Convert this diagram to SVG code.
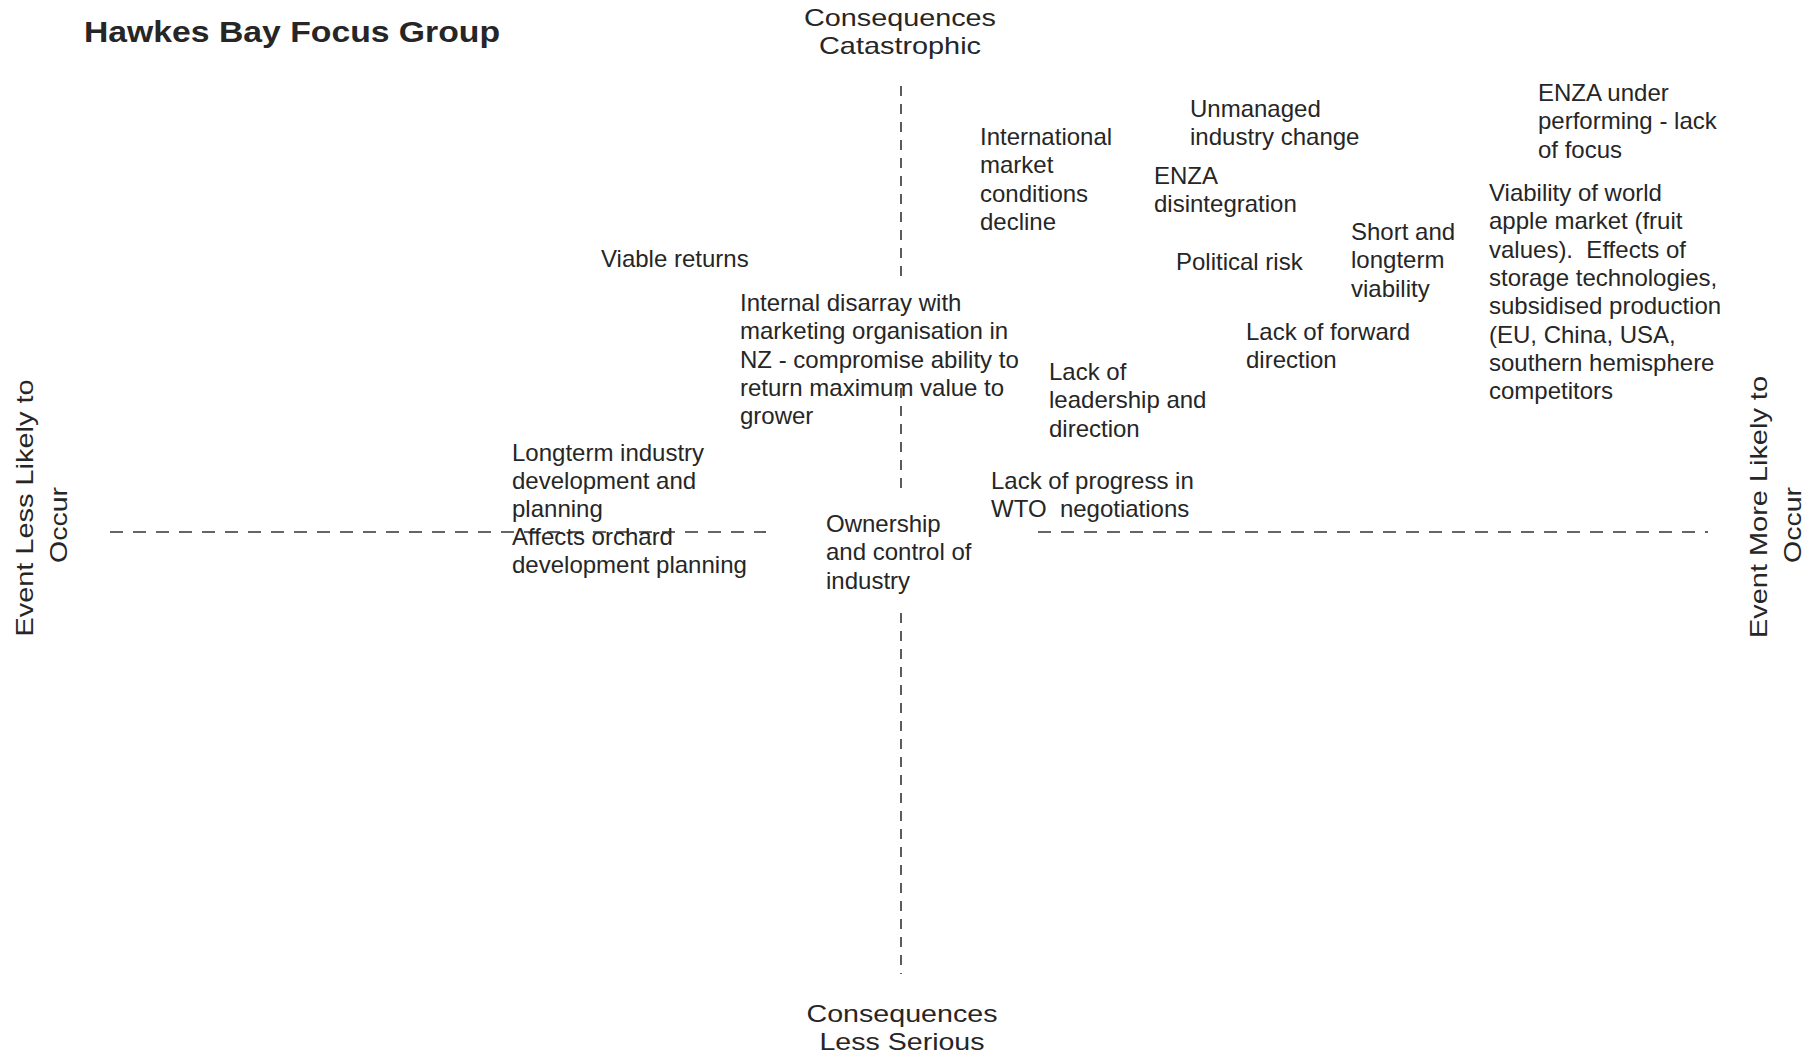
<svg xmlns="http://www.w3.org/2000/svg" width="1813" height="1055" viewBox="0 0 1813 1055">
<style>
text{font-family:"Liberation Sans",Arial,Helvetica,sans-serif;fill:#262626;font-size:24px}
.title{font-weight:bold;font-size:29px}
.ax{text-anchor:middle}
.dh{stroke:#333;stroke-width:1.6;fill:none;stroke-dasharray:13 10}
.dv{stroke:#333;stroke-width:1.6;fill:none;stroke-dasharray:10 8}
</style>
<rect width="1813" height="1055" fill="#fff"/>
<g id="axes">
<path class="dh" d="M110 532H766"/>
<path class="dh" d="M1038 532H1708"/>
<path class="dv" d="M901 86V284"/>
<path class="dv" d="M901 388V488"/>
<path class="dv" d="M901 613V974"/>
</g>
<g id="title"><text class="title" x="84" y="42" textLength="416" lengthAdjust="spacingAndGlyphs">Hawkes Bay Focus Group</text></g>
<g id="axis-top">
<text class="ax" x="900" y="26" textLength="192" lengthAdjust="spacingAndGlyphs">Consequences</text>
<text class="ax" x="900" y="54" textLength="162" lengthAdjust="spacingAndGlyphs">Catastrophic</text>
</g>
<g id="axis-bottom">
<text class="ax" x="902" y="1022" textLength="191" lengthAdjust="spacingAndGlyphs">Consequences</text>
<text class="ax" x="902" y="1050" textLength="165" lengthAdjust="spacingAndGlyphs">Less Serious</text>
</g>
<g id="axis-left">
<text class="ax" transform="translate(33,508) rotate(-90)" textLength="257" lengthAdjust="spacingAndGlyphs">Event Less Likely to</text>
<text class="ax" transform="translate(67,525) rotate(-90)" textLength="76" lengthAdjust="spacingAndGlyphs">Occur</text>
</g>
<g id="axis-right">
<text class="ax" transform="translate(1767,507) rotate(-90)" textLength="262" lengthAdjust="spacingAndGlyphs">Event More Likely to</text>
<text class="ax" transform="translate(1801,525) rotate(-90)" textLength="76" lengthAdjust="spacingAndGlyphs">Occur</text>
</g>
<g id="viable-returns"><text x="601" y="267">Viable returns</text></g>
<g id="international-market"><text x="980" y="145"><tspan x="980">International</tspan><tspan x="980" dy="28.3">market</tspan><tspan x="980" dy="28.3">conditions</tspan><tspan x="980" dy="28.3">decline</tspan></text></g>
<g id="unmanaged-change"><text x="1190" y="117"><tspan x="1190">Unmanaged</tspan><tspan x="1190" dy="28.3">industry change</tspan></text></g>
<g id="enza-disintegration"><text x="1154" y="184"><tspan x="1154">ENZA</tspan><tspan x="1154" dy="28.3">disintegration</tspan></text></g>
<g id="political-risk"><text x="1176" y="270">Political risk</text></g>
<g id="short-longterm"><text x="1351" y="240"><tspan x="1351">Short and</tspan><tspan x="1351" dy="28.3">longterm</tspan><tspan x="1351" dy="28.3">viability</tspan></text></g>
<g id="enza-under"><text x="1538" y="101"><tspan x="1538">ENZA under</tspan><tspan x="1538" dy="28.3">performing - lack</tspan><tspan x="1538" dy="28.3">of focus</tspan></text></g>
<g id="viability-world"><text x="1489" y="201"><tspan x="1489">Viability of world</tspan><tspan x="1489" dy="28.3">apple market (fruit</tspan><tspan x="1489" dy="28.3" xml:space="preserve">values).  Effects of</tspan><tspan x="1489" dy="28.3">storage technologies,</tspan><tspan x="1489" dy="28.3">subsidised production</tspan><tspan x="1489" dy="28.3">(EU, China, USA,</tspan><tspan x="1489" dy="28.3">southern hemisphere</tspan><tspan x="1489" dy="28.3">competitors</tspan></text></g>
<g id="forward-direction"><text x="1246" y="340"><tspan x="1246">Lack of forward</tspan><tspan x="1246" dy="28.3">direction</tspan></text></g>
<g id="leadership"><text x="1049" y="380"><tspan x="1049">Lack of</tspan><tspan x="1049" dy="28.3">leadership and</tspan><tspan x="1049" dy="28.3">direction</tspan></text></g>
<g id="wto"><text x="991" y="489"><tspan x="991">Lack of progress in</tspan><tspan x="991" dy="28.3" xml:space="preserve">WTO  negotiations</tspan></text></g>
<g id="internal-disarray"><text x="740" y="311"><tspan x="740">Internal disarray with</tspan><tspan x="740" dy="28.3">marketing organisation in</tspan><tspan x="740" dy="28.3">NZ - compromise ability to</tspan><tspan x="740" dy="28.3">return maximum value to</tspan><tspan x="740" dy="28.3">grower</tspan></text></g>
<g id="longterm-development"><text x="512" y="461"><tspan x="512">Longterm industry</tspan><tspan x="512" dy="28">development and</tspan><tspan x="512" dy="28">planning</tspan><tspan x="512" dy="28">Affects orchard</tspan><tspan x="512" dy="28">development planning</tspan></text></g>
<g id="ownership"><text x="826" y="532"><tspan x="826">Ownership</tspan><tspan x="826" dy="28.3">and control of</tspan><tspan x="826" dy="28.3">industry</tspan></text></g>
</svg>
